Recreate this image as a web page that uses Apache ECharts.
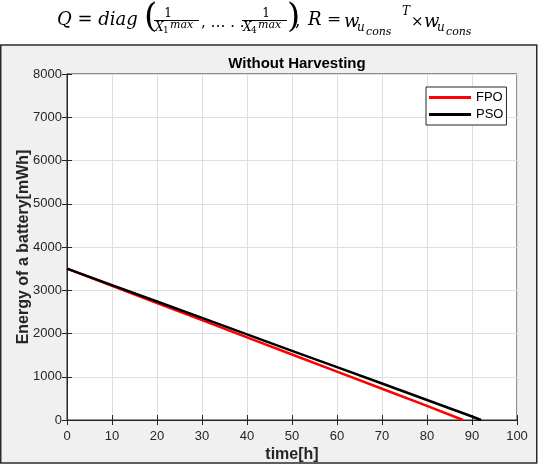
<!DOCTYPE html>
<html>
<head>
<meta charset="utf-8">
<script src="https://cdn.jsdelivr.net/npm/echarts@6/dist/echarts.min.js"></script>
<style>
  html, body { margin: 0; padding: 0; background: #fff; }
  #main { width: 538px; height: 464px; }
</style>
</head>
<body>
<div id="main"></div>
<script>
// values
const timeFPO = [0, 10, 20, 30, 40, 50, 60, 70, 80, 88];
const energyFPO = [3500, 3103, 2706, 2309, 1912, 1515, 1118, 722, 325, 0];
const timePSO = [0, 10, 20, 30, 40, 50, 60, 70, 80, 90, 92];
const energyPSO = [3500, 3120, 2740, 2360, 1980, 1600, 1222, 845, 462, 80, 0];
const xTicks = [0, 100, 10];   // min, max, interval
const yTicks = [0, 8000, 1000];

const chart = echarts.init(document.getElementById('main'));

const sans = 'Liberation Sans, Arial, sans-serif';
const serif = 'DejaVu Serif, Liberation Serif, serif';
const axisColor = '#262626';
const tickLen = 5;

function pairs(xs, ys) {
    return xs.map((x, i) => [x, ys[i]]);
}

// little helper for the formula pieces above the figure
function txt(text, x, y, size, opts) {
    opts = opts || {};
    return {
        type: 'text',
        x: x, y: y,
        style: {
            text: text,
            font: (opts.italic === false ? '' : 'italic ') + size + 'px ' + serif,
            fill: '#000',
            align: opts.align || 'left',
            verticalAlign: 'middle'
        }
    };
}
function bar(x1, x2, y) {
    return { type: 'line', shape: { x1: x1, y1: y, x2: x2, y2: y }, style: { stroke: '#000', lineWidth: 1 } };
}

const formula = [
    txt('Q = diag', 57, 20, 18),
    txt('(', 144, 18, 34, { italic: false }),
    txt('1', 168, 14, 12, { italic: false, align: 'center' }),
    bar(154, 199, 20.5),
    txt('X', 155, 28, 12),
    txt('1', 163, 31, 9, { italic: false }),
    txt('max', 170, 25, 11),
    txt(', … . .', 201, 23, 15, { italic: false }),
    txt('1', 266, 14, 12, { italic: false, align: 'center' }),
    bar(242, 287, 20.5),
    txt('X', 243, 28, 12),
    txt('4', 251, 31, 9, { italic: false }),
    txt('max', 258, 25, 11),
    txt(')', 287, 18, 34, { italic: false }),
    txt(',', 295, 22, 17, { italic: false }),
    txt('R', 308, 20, 18),
    txt('=', 327, 20, 17, { italic: false }),
    txt('w', 344, 22, 18),
    txt('u', 357, 28, 12),
    txt('cons', 366, 32, 11),
    txt('T', 402, 12, 12),
    txt('×', 411, 22, 15, { italic: false }),
    txt('w', 424, 22, 18),
    txt('u', 437, 28, 12),
    txt('cons', 446, 32, 11)
];

const option = {
    backgroundColor: '#fff',
    animation: false,
    graphic: [
        {
            type: 'rect',
            z: -10,
            shape: { x: 0.75, y: 45, width: 536, height: 418 },
            style: { fill: '#f0f0f0', stroke: '#2b2b2b', lineWidth: 1.5 }
        }
    ].concat(formula),
    title: {
        text: 'Without Harvesting',
        left: 292,
        top: 51,
        textAlign: 'center',
        textStyle: { fontFamily: sans, fontSize: 15, fontWeight: 'bold', color: '#000' }
    },
    legend: {
        orient: 'vertical',
        left: 426,
        top: 87,
        icon: 'rect',
        itemWidth: 42,
        itemHeight: 3,
        itemGap: 4,
        padding: [4, 3, 4, 3],
        backgroundColor: '#fff',
        borderColor: axisColor,
        borderWidth: 1,
        textStyle: { fontFamily: sans, fontSize: 13, color: '#000' },
        data: ['FPO', 'PSO']
    },
    grid: {
        left: 67, top: 74, right: 21, bottom: 44,
        outerBoundsMode: 'none',
        containLabel: false,
        show: true,
        backgroundColor: '#fff',
        borderColor: axisColor,
        borderWidth: 1
    },
    xAxis: [
        {
            type: 'value',
            min: xTicks[0], max: xTicks[1], interval: xTicks[2],
            name: 'time[h]',
            nameLocation: 'middle',
            nameGap: 27,
            nameMoveOverlap: false,
            nameTextStyle: { fontFamily: sans, fontSize: 16, fontWeight: 'bold', color: axisColor },
            axisLine: { lineStyle: { color: axisColor } },
            axisTick: { inside: true, length: tickLen, lineStyle: { color: axisColor } },
            axisLabel: { fontFamily: sans, fontSize: 13, color: axisColor, margin: 10 },
            splitLine: { lineStyle: { color: '#dfdfdf' } }
        },
        {
            type: 'value', position: 'top',
            min: xTicks[0], max: xTicks[1], interval: xTicks[2],
            axisLine: { lineStyle: { color: axisColor } },
            axisTick: { inside: true, length: tickLen, lineStyle: { color: axisColor } },
            axisLabel: { show: false },
            splitLine: { show: false }
        }
    ],
    yAxis: [
        {
            type: 'value',
            min: yTicks[0], max: yTicks[1], interval: yTicks[2],
            name: 'Energy of a battery[mWh]',
            nameLocation: 'middle',
            nameGap: 35,
            nameMoveOverlap: false,
            nameTextStyle: { fontFamily: sans, fontSize: 16, fontWeight: 'bold', color: axisColor },
            axisLine: { show: true, lineStyle: { color: axisColor } },
            axisTick: { show: true, inside: true, length: tickLen, lineStyle: { color: axisColor } },
            axisLabel: { fontFamily: sans, fontSize: 13, color: axisColor, margin: 5, formatter: v => String(v) },
            splitLine: { lineStyle: { color: '#dfdfdf' } }
        },
        {
            type: 'value', position: 'right',
            min: yTicks[0], max: yTicks[1], interval: yTicks[2],
            axisLine: { show: true, lineStyle: { color: axisColor } },
            axisTick: { show: true, inside: true, length: tickLen, lineStyle: { color: axisColor } },
            axisLabel: { show: false },
            splitLine: { show: false }
        }
    ],
    series: [
        {
            name: 'FPO',
            type: 'line',
            showSymbol: false,
            color: '#ff0000',
            lineStyle: { width: 2.5, color: '#ff0000' },
            data: pairs(timeFPO, energyFPO)
        },
        {
            name: 'PSO',
            type: 'line',
            showSymbol: false,
            color: '#000000',
            lineStyle: { width: 2.5, color: '#000000' },
            data: pairs(timePSO, energyPSO)
        }
    ]
};

chart.setOption(option);
</script>
</body>
</html>
